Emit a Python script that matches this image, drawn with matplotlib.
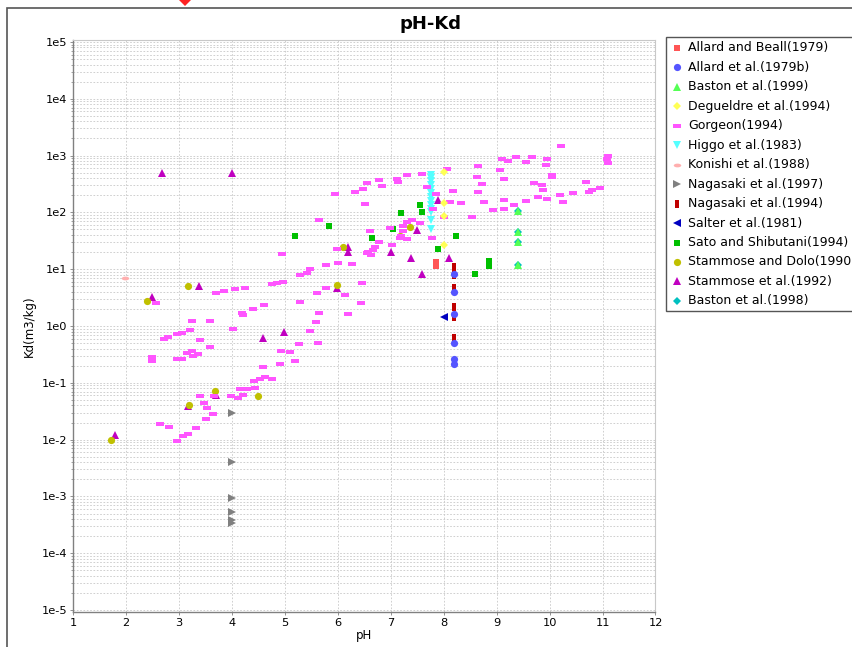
import matplotlib
matplotlib.use("Agg")
import matplotlib.pyplot as plt
from matplotlib.markers import MarkerStyle
from matplotlib.transforms import Affine2D
from matplotlib.lines import Line2D
from matplotlib.patches import Rectangle
from matplotlib.ticker import FixedLocator, NullFormatter

# ---------------- data ----------------
series_names = [
    "Allard and Beall(1979)", "Allard et al.(1979b)", "Baston et al.(1999)",
    "Degueldre et al.(1994)", "Gorgeon(1994)", "Higgo et al.(1983)",
    "Konishi et al.(1988)", "Nagasaki et al.(1997)", "Nagasaki et al.(1994)",
    "Salter et al.(1981)", "Sato and Shibutani(1994)", "Stammose and Dolo(1990)",
    "Stammose et al.(1992)", "Baston et al.(1998)",
]

allard_beall_ph = [7.86, 7.86]
allard_beall_kd = [13.4, 11.4]

allard_ph = [8.2, 8.2, 8.2, 8.2, 8.2, 8.2]
allard_kd = [8.3, 4.0, 1.6, 0.5, 0.26, 0.21]

baston99_ph = [9.41, 9.41, 9.41, 9.41]
baston99_kd = [105, 45, 30, 11.8]

degueldre_ph = [8.01, 8.01, 8.01, 8.01]
degueldre_kd = [510, 148, 87, 27]

gorgeon_ph = [
    2.97, 3.08, 3.17, 3.33, 3.51, 3.65, 3.53, 3.48, 3.40, 3.67, 3.99, 4.12, 4.21,
    4.16, 4.29, 4.44, 4.42, 4.53, 4.63, 4.76, 4.59, 4.91, 5.20, 5.10, 4.93, 5.27,
    5.63, 5.48, 5.59, 5.65, 2.64, 2.81,
    2.49, 2.49, 2.72, 2.80, 2.97, 3.06, 3.21, 3.25, 3.59, 3.40, 3.59, 3.25, 3.16,
    3.27, 3.36, 2.97, 3.06, 4.02, 4.19, 4.21, 4.40, 4.61, 2.57, 3.85, 3.70, 4.06,
    4.25, 4.76, 4.86, 4.97, 5.29, 5.29, 5.42, 5.48, 4.95, 6.20, 6.44, 5.78, 5.61,
    6.14, 6.46, 5.78, 6.01, 6.27, 5.99, 6.56, 5.65,
    5.95, 6.33, 6.48, 6.56, 6.77, 6.52, 6.60, 6.71, 6.63, 6.58, 6.78, 7.03, 6.99,
    7.18, 7.24, 7.31, 7.41, 7.56, 7.77, 6.84, 7.12, 7.14, 7.31, 7.60, 7.69, 7.86,
    8.07, 8.18, 8.11, 8.32, 8.64, 8.62, 8.73, 8.64, 8.77, 8.54, 8.01, 7.79, 8.94,
    9.13, 9.13, 9.32, 9.56, 9.11, 9.22, 9.37, 9.56, 9.66, 9.07, 9.13, 9.96, 9.94,
    9.70, 9.85, 9.87, 9.79, 9.96, 10.19, 10.26, 10.45, 10.04, 10.04, 10.21, 10.68,
    10.81, 10.74, 10.96, 11.11, 11.09, 11.11, 7.24, 7.20, 7.31, 6.67,
]
gorgeon_kd = [
    0.0094, 0.0116, 0.0126, 0.016, 0.023, 0.028, 0.036, 0.044, 0.059, 0.059, 0.059,
    0.054, 0.061, 0.078, 0.078, 0.081, 0.108, 0.117, 0.126, 0.117, 0.19, 0.21, 0.24,
    0.35, 0.36, 0.48, 0.50, 0.82, 1.17, 1.7, 0.019, 0.017,
    0.28, 0.24, 0.59, 0.64, 0.72, 0.75, 0.85, 1.22, 1.22, 0.57, 0.43, 0.36, 0.33,
    0.30, 0.32, 0.26, 0.26, 0.89, 1.7, 1.56, 2.0, 2.3, 2.5, 4.1, 3.8, 4.4,
    4.7, 5.5, 5.7, 6.0, 2.6, 7.9, 8.6, 10.1, 18.5, 1.6, 2.5, 4.7, 3.8,
    3.5, 5.7, 11.9, 12.9, 12.4, 23, 19, 73,
    211, 229, 258, 329, 372, 140, 47, 25, 17.8, 20, 30, 27, 53,
    35, 47, 68, 73, 65, 35, 291, 387, 343, 455, 474, 280, 211,
    581, 238, 152, 146, 657, 420, 316, 229, 152, 83, 83, 115, 110,
    115, 165, 135, 159, 872, 804, 944, 771, 944, 558, 387, 872, 684,
    329, 303, 248, 187, 172, 202, 152, 220, 420, 460, 1476, 343,
    248, 229, 269, 1000, 872, 741, 58, 38, 34, 22,
]

higgo_ph = [7.76] * 13
higgo_kd = [450, 400, 350, 300, 260, 220, 190, 160, 135, 115, 100, 73, 51]

konishi_ph = [1.98]
konishi_kd = [7.1]

nagasaki97_ph = [4.0, 4.0, 4.0, 4.0, 4.0, 4.0]
nagasaki97_kd = [0.029, 0.0041, 0.00092, 0.00053, 0.00038, 0.00034]

nagasaki94_ph = [8.2, 8.2, 8.2, 8.2, 8.2, 8.2]
nagasaki94_kd = [11, 8, 4.7, 2.2, 1.45, 0.62]

salter_ph = [8.01]
salter_kd = [1.45]

sato_ph = [5.2, 5.84, 6.65, 7.05, 7.2, 7.56, 7.6, 7.9, 8.24, 8.60, 8.85, 8.85]
sato_kd = [38, 57, 35, 51, 98, 134, 100, 23, 38, 8.3, 14, 11.6]

stammose_dolo_ph = [1.72, 2.40, 3.17, 3.19, 3.68, 4.50, 5.99, 6.10, 7.18, 7.37]
stammose_dolo_kd = [0.010, 2.75, 5.0, 0.041, 0.072, 0.059, 5.3, 24.5, 38, 55]

stammose92_ph = [2.68, 4.0, 1.79, 2.49, 3.38, 3.17, 3.70, 4.59, 4.99, 5.99, 6.2,
                 6.2, 7.0, 7.39, 7.6, 8.1, 7.9, 7.5]
stammose92_kd = [490, 490, 0.012, 3.2, 5.0, 0.039, 0.06, 0.62, 0.78, 4.7, 25,
                 20, 20, 16, 8.3, 16, 165, 49]

baston98_ph = [9.41, 9.41, 9.41, 9.41]
baston98_kd = [105, 45, 30, 11.8]

x_ticks = list(range(1, 13))
y_ticks = [1e-5, 1e-4, 1e-3, 1e-2, 1e-1, 1e0, 1e1, 1e2, 1e3, 1e4, 1e5]
y_ticklabels = ["1e-5", "1e-4", "1e-3", "1e-2", "1e-1", "1e0", "1e1", "1e2",
                "1e3", "1e4", "1e5"]
y_minor = [m * d for d in y_ticks[:-1] for m in range(2, 10)]

# ---------------- styles ----------------
def ms(base, sx=1.0, sy=1.0):
    return MarkerStyle(base, transform=Affine2D().scale(sx, sy))

styles = [
    ("#FF5555", ms("s"), 4.8),
    ("#5555FF", ms("o"), 5.2),
    ("#55FF55", ms("^"), 5.8),
    ("#FFFF55", ms("D"), 4.0),
    ("#FF55FF", ms("s", 1.0, 0.5), 5.2),
    ("#55FFFF", ms("v"), 5.8),
    ("#FFAFAF", ms("o", 1.0, 0.5), 5.4),
    ("#808080", ms(">"), 5.8),
    ("#C00000", ms("s", 0.5, 1.0), 5.2),
    ("#0000C0", ms("<"), 5.8),
    ("#00C000", ms("s"), 4.8),
    ("#C0C000", ms("o"), 5.2),
    ("#C000C0", ms("^"), 5.8),
    ("#00C0C0", ms("D"), 4.0),
]

data = [
    (allard_beall_ph, allard_beall_kd), (allard_ph, allard_kd),
    (baston99_ph, baston99_kd), (degueldre_ph, degueldre_kd),
    (gorgeon_ph, gorgeon_kd), (higgo_ph, higgo_kd), (konishi_ph, konishi_kd),
    (nagasaki97_ph, nagasaki97_kd), (nagasaki94_ph, nagasaki94_kd),
    (salter_ph, salter_kd), (sato_ph, sato_kd),
    (stammose_dolo_ph, stammose_dolo_kd), (stammose92_ph, stammose92_kd),
    (baston98_ph, baston98_kd),
]

W, H = 853, 647
fig = plt.figure(figsize=(W / 100, H / 100), dpi=100)
fig.patch.set_facecolor("white")

# outer chart border
fig.add_artist(Rectangle((7 / W, -0.1), 1.2, 1 - 8 / H + 0.1, transform=fig.transFigure,
                         fill=False, edgecolor="#555555", lw=1.2))

ax_l, ax_r, ax_t, ax_b = 73, 655.5, 40, 612
ax = fig.add_axes([ax_l / W, 1 - ax_b / H, (ax_r - ax_l) / W, (ax_b - ax_t) / H])
ax.set_yscale("log")
ax.set_xlim(1, 12)
ax.set_ylim(10 ** -5.035, 10 ** 5.035)

n = len(data)
for i, ((xs, ys), (col, mk, size)) in enumerate(zip(data, styles)):
    ax.plot(xs, ys, linestyle="none", marker=mk, markersize=size, color=col,
            markeredgewidth=0, zorder=10 + (n - i))

ax.set_xticks(x_ticks)
ax.set_xticklabels([str(t) for t in x_ticks])
ax.set_yticks(y_ticks)
ax.set_yticklabels(y_ticklabels)
ax.yaxis.set_minor_locator(FixedLocator(y_minor))
ax.yaxis.set_minor_formatter(NullFormatter())
ax.tick_params(axis="both", labelsize=8.2, length=2, width=0.6, color="#808080",
               pad=2)
ax.tick_params(axis="y", which="minor", length=1.5, width=0.5, color="#808080")
ax.grid(True, which="major", color="#c8c8c8", linestyle=(0, (2, 2)), lw=0.6)
ax.grid(True, which="minor", axis="y", color="#c8c8c8", linestyle=(0, (2, 2)), lw=0.6)
ax.set_axisbelow(True)
for s in ["left", "bottom"]:
    ax.spines[s].set_color("#808080")
    ax.spines[s].set_linewidth(1.0)
for s in ["top", "right"]:
    ax.spines[s].set_color("#c8c8c8")
    ax.spines[s].set_linewidth(0.8)

ax.set_xlabel("pH", fontsize=8.5, labelpad=1)
ax.set_ylabel("Kd(m3/kg)", fontsize=8.5, labelpad=4)

fig.text(431 / W, 1 - 24 / H, "pH-Kd", ha="center", va="center",
         fontsize=13, fontweight="bold")

# legend box
lx0, ly0, ly1 = 666, 37, 311
fig.add_artist(Rectangle((lx0 / W, 1 - ly1 / H), 0.5, (ly1 - ly0) / H,
                         transform=fig.transFigure, fill=True, facecolor="white",
                         edgecolor="#555555", lw=1.0))
for i, (name, (col, mk, size)) in enumerate(zip(series_names, styles)):
    yy = 1 - (48 + 19.45 * i) / H
    fig.add_artist(Line2D([677 / W], [yy], transform=fig.transFigure,
                          linestyle="none", marker=mk, markersize=size,
                          color=col, markeredgewidth=0))
    fig.text(688.5 / W, yy, name, ha="left", va="center", fontsize=9)

# small red marker at top edge
fig.add_artist(Line2D([185 / W], [1.0], transform=fig.transFigure,
                      linestyle="none", marker="D", markersize=6,
                      color="#ff2222", markeredgewidth=0))

fig.savefig("out.png", dpi=100)
